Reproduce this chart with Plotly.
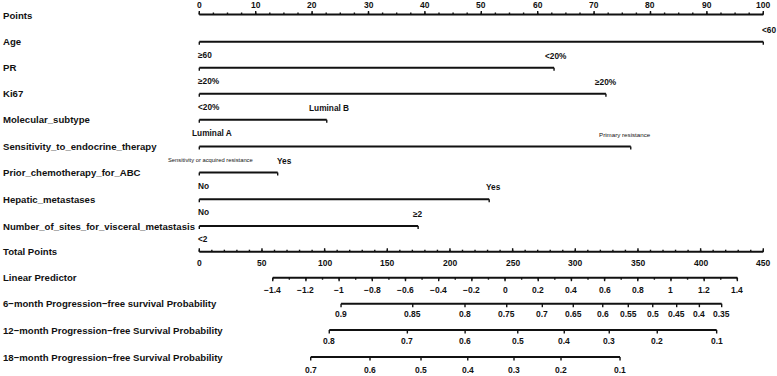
import plotly.graph_objects as go

# ---------------- data ----------------
points_labels = [0, 10, 20, 30, 40, 50, 60, 70, 80, 90, 100]
points_minor = [i * 2.5 for i in range(41)]

variables = ["Age", "PR", "Ki67", "Molecular_subtype",
             "Sensitivity_to_endocrine_therapy", "Prior_chemotherapy_for_ABC",
             "Hepatic_metastases", "Number_of_sites_for_visceral_metastasis"]
low_labels = ["≥60", "≥20%", "<20%", "Luminal A",
              "Sensitivity or acquired resistance", "No", "No", "<2"]
high_labels = ["<60", "<20%", "≥20%", "Luminal B",
               "Primary resistance", "Yes", "Yes", "≥2"]
low_points = [0, 0, 0, 0, 0, 0, 0, 0]
high_points = [100, 62.9, 72.1, 22.6, 76.5, 13.9, 51.4, 38.8]

total_labels = [0, 50, 100, 150, 200, 250, 300, 350, 400, 450]
total_minor = list(range(0, 451, 10))

lp_labels = [-1.4, -1.2, -1, -0.8, -0.6, -0.4, -0.2, 0, 0.2, 0.4, 0.6, 0.8, 1, 1.2, 1.4]
lp_minor = [-1.4 + 0.1 * i for i in range(29)]
lp_tp_range = [58.6, 429.3]   # total points at LP -1.4 and 1.4

pfs6_probs = [0.9, 0.85, 0.8, 0.75, 0.7, 0.65, 0.6, 0.55, 0.5, 0.45, 0.4, 0.35]
pfs6_tp = [113.1, 170.3, 212.0, 245.3, 273.7, 298.4, 321.9, 342.3, 361.8, 380.9, 399.0, 416.8]
pfs12_probs = [0.8, 0.7, 0.6, 0.5, 0.4, 0.3, 0.2, 0.1]
pfs12_tp = [103.7, 166.0, 212.1, 254.1, 291.2, 327.1, 365.4, 412.8]
pfs18_probs = [0.7, 0.6, 0.5, 0.4, 0.3, 0.2, 0.1]
pfs18_tp = [88.9, 136.2, 176.9, 214.2, 251.1, 288.6, 335.7]

PTS_TO_TOTAL = 450 / 100  # points axis shares the total-points pixel span

# ---------------- layout constants ----------------
W, H = 777, 376
X0_PX, TP_PX = 199.3, 1.2533
xr = [(0 - X0_PX) / TP_PX, (W - X0_PX) / TP_PX]

row_y = {"Points": 14.5, "Age": 41.7, "PR": 67.7, "Ki67": 93.7,
         "Molecular_subtype": 119.8, "Sensitivity_to_endocrine_therapy": 146.5,
         "Prior_chemotherapy_for_ABC": 172.5, "Hepatic_metastases": 199.3,
         "Number_of_sites_for_visceral_metastasis": 226,
         "Total Points": 251.7, "Linear Predictor": 277.7,
         "6-month": 303.7, "12-month": 330, "18-month": 357}
low_shift = [-3.5, -3.5, -3.5, -9.5, -33, -3.5, -3.5, -3.5]
high_shift = [6, 2, 0.5, 2.5, -6, 7, 4, -0.5]
low_size = [8.3, 8.3, 8.3, 8.3, 5.8, 8.3, 8.3, 8.3]
high_size = [8.3, 8.3, 8.3, 8.3, 6.2, 8.3, 8.3, 8.3]

INK = "#111111"
FONT = "Liberation Sans"
LW = 1.9

fig = go.Figure()
annotations = []


def add_line(xs, y):
    fig.add_trace(go.Scatter(x=[min(xs), max(xs)], y=[y, y], mode="lines",
                             line=dict(color=INK, width=LW), hoverinfo="skip",
                             showlegend=False))


def add_ticks(xs, y, length):
    tx, ty = [], []
    for v in xs:
        tx += [v, v, None]
        ty += [y, y + length, None]
    fig.add_trace(go.Scatter(x=tx, y=ty, mode="lines",
                             line=dict(color=INK, width=1.4), hoverinfo="skip",
                             showlegend=False))


def add_text(x, y, text, size, bold=True, xanchor="center", xshift=0, xref="x"):
    annotations.append(dict(x=x, y=y, xref=xref, yref="y", text=text,
                            showarrow=False, xanchor=xanchor, yanchor="middle",
                            xshift=xshift,
                            font=dict(family=FONT, size=size, color=INK,
                                      weight="bold" if bold else "normal")))


def row_label(y, text):
    annotations.append(dict(x=0, y=y, xref="paper", yref="y", text=text,
                            showarrow=False, xanchor="left", yanchor="middle",
                            xshift=1,
                            font=dict(family=FONT, size=9.6, color=INK,
                                      weight="bold")))


# Points axis (ticks up, labels above)
y = row_y["Points"]
row_label(y + 0.5, "Points")
px = [p * PTS_TO_TOTAL for p in points_labels]
add_line(px, y)
add_ticks([p * PTS_TO_TOTAL for p in points_minor], y, -2)
add_ticks(px, y, -3.5)
for p in points_labels:
    add_text(p * PTS_TO_TOTAL, 5, str(p), 8.5)

# Variables
for i, v in enumerate(variables):
    y = row_y[v]
    row_label(y, v)
    xa, xb = low_points[i] * PTS_TO_TOTAL, high_points[i] * PTS_TO_TOTAL
    add_line([xa, xb], y)
    add_ticks([xa, xb], y, 3)
    add_text(xa, y + 13, low_labels[i], low_size[i], bold=(low_size[i] > 7),
             xanchor="left", xshift=low_shift[i])
    add_text(xb, y - 12, high_labels[i], high_size[i], bold=(high_size[i] > 7),
             xshift=high_shift[i])

# Total points
y = row_y["Total Points"]
row_label(y, "Total Points")
add_line(total_labels, y)
add_ticks(total_minor, y, -2)
add_ticks(total_labels, y, -3.5)
for t in total_labels:
    add_text(t, 262.5, str(t), 8.5)


# Linear predictor
def lp_to_tp(v):
    return lp_tp_range[0] + (v - lp_labels[0]) / (lp_labels[-1] - lp_labels[0]) * (lp_tp_range[1] - lp_tp_range[0])


y = row_y["Linear Predictor"]
row_label(y, "Linear Predictor")
add_line([lp_to_tp(v) for v in lp_labels], y)
add_ticks([lp_to_tp(v) for v in lp_minor], y, 2)
add_ticks([lp_to_tp(v) for v in lp_labels], y, 3.5)
for v in lp_labels:
    s = ("%g" % v).replace("-", "−")
    add_text(lp_to_tp(v), 289.5, s, 8.5)

# Probability axes
prob_rows = [
    ("6-month", "6−month Progression−free survival Probability", pfs6_probs, pfs6_tp, 314),
    ("12-month", "12−month Progression−free Survival Probability", pfs12_probs, pfs12_tp, 340.5),
    ("18-month", "18−month Progression−free Survival Probability", pfs18_probs, pfs18_tp, 370),
]
for key, label, probs, tps, ly in prob_rows:
    y = row_y[key]
    row_label(y, label)
    add_line(tps, y)
    add_ticks(tps, y, 3.5)
    for p, t in zip(probs, tps):
        add_text(t, ly, "%g" % p, 8.5)

fig.update_layout(
    width=W, height=H,
    margin=dict(l=0, r=0, t=0, b=0),
    paper_bgcolor="white", plot_bgcolor="white",
    xaxis=dict(range=xr, visible=False, fixedrange=True),
    yaxis=dict(range=[H, 0], visible=False, fixedrange=True),
    annotations=annotations,
    showlegend=False,
)

fig.write_html("out.html", config={"displayModeBar": False},
               post_script="document.body.style.margin='0';document.body.style.overflow='hidden';")
